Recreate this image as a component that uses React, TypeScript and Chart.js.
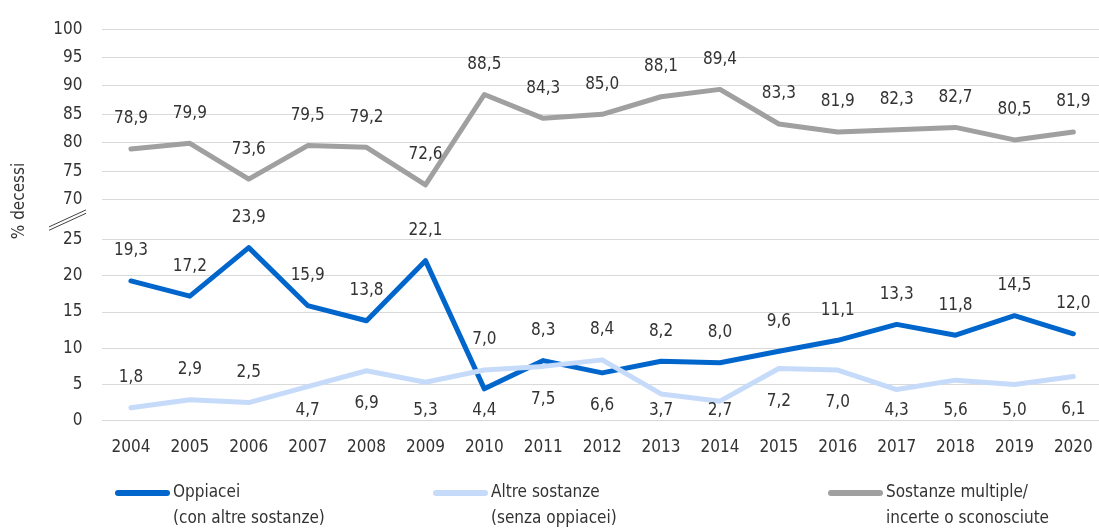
import React, { useEffect, useRef } from 'react';
import { Chart, registerables } from 'chart.js';

Chart.register(...registerables);

// ---------- data ----------
const years = ['2004', '2005', '2006', '2007', '2008', '2009', '2010', '2011', '2012', '2013', '2014', '2015', '2016', '2017', '2018', '2019', '2020'];
const oppiacei = [19.3, 17.2, 23.9, 15.9, 13.8, 22.1, 4.4, 8.3, 6.6, 8.2, 8.0, 9.6, 11.1, 13.3, 11.8, 14.5, 12.0];
const altreSostanze = [1.8, 2.9, 2.5, 4.7, 6.9, 5.3, 7.0, 7.5, 8.4, 3.7, 2.7, 7.2, 7.0, 4.3, 5.6, 5.0, 6.1];
const sostanzeMultiple = [78.9, 79.9, 73.6, 79.5, 79.2, 72.6, 88.5, 84.3, 85.0, 88.1, 89.4, 83.3, 81.9, 82.3, 82.7, 80.5, 81.9];
const lowerTicks = [0, 5, 10, 15, 20, 25];
const upperTicks = [70, 75, 80, 85, 90, 95, 100];
const seriesLabels = [
  ['Oppiacei', '(con altre sostanze)'],
  ['Altre sostanze', '(senza oppiacei)'],
  ['Sostanze multiple/', 'incerte o sconosciute'],
];
const yTitle = '% decessi';

// ---------- styles ----------
const FONT = "'Liberation Sans Narrow', 'DejaVu Sans Condensed', 'Arial Narrow', sans-serif";
const FS = 17;
const TEXT = '#333333';
const GRID = '#d9d9d9';
const colors = ['#0066cc', '#c6dbfa', '#a0a0a0'];
// label placement per point: 'a' = above, 'b' = below
const labelPlacement = [
  ['a', 'a', 'a', 'a', 'a', 'a', 'b', 'a', 'b', 'a', 'a', 'a', 'a', 'a', 'a', 'a', 'a'],
  ['a', 'a', 'a', 'b', 'b', 'b', 'a', 'b', 'a', 'b', 'b', 'b', 'b', 'b', 'b', 'b', 'b'],
  ['a', 'a', 'a', 'a', 'a', 'a', 'a', 'a', 'a', 'a', 'a', 'a', 'a', 'a', 'a', 'a', 'a'],
];
const legendX = [115, 433, 828];

const fmt = (v: number) => v.toFixed(1).replace('.', ',');

const decorPlugin = {
  id: 'decor',
  afterDatasetsDraw(chart: any) {
    const ctx = chart.ctx;
    ctx.save();
    ctx.font = `${FS}px ${FONT}`;
    ctx.fillStyle = TEXT;
    ctx.textAlign = 'center';
    ctx.textBaseline = 'middle';
    const bottom = chart.chartArea.bottom;
    chart.data.datasets.forEach((ds: any, di: number) => {
      const meta = chart.getDatasetMeta(di);
      meta.data.forEach((pt: any, i: number) => {
        const place = labelPlacement[di][i];
        const y = place === 'a' ? pt.y - 30 : Math.min(pt.y + 33, bottom - 10);
        ctx.fillText(fmt(ds.data[i]), pt.x, y);
      });
    });
    ctx.restore();
  },
  afterDraw(chart: any) {
    const ctx = chart.ctx;
    const yLow = chart.scales.yLow;
    const yHigh = chart.scales.yHigh;
    ctx.save();
    // axis title
    ctx.font = `${FS}px ${FONT}`;
    ctx.fillStyle = TEXT;
    ctx.textAlign = 'center';
    ctx.textBaseline = 'middle';
    ctx.translate(20, 201);
    ctx.rotate(-Math.PI / 2);
    ctx.fillText(yTitle, 0, 0);
    ctx.restore();

    // axis break marks
    const mid = (yLow.getPixelForValue(25) + yHigh.getPixelForValue(70)) / 2;
    ctx.save();
    ctx.strokeStyle = '#404040';
    ctx.lineWidth = 1;
    [-1.7, 1.7].forEach((d) => {
      ctx.beginPath();
      ctx.moveTo(49, mid + 9 + d);
      ctx.lineTo(86, mid - 8 + d);
      ctx.stroke();
    });
    ctx.restore();

    // legend
    ctx.save();
    ctx.font = `${FS}px ${FONT}`;
    ctx.fillStyle = TEXT;
    ctx.textAlign = 'left';
    ctx.textBaseline = 'middle';
    seriesLabels.forEach((lines, i) => {
      const x = legendX[i];
      ctx.strokeStyle = colors[i];
      ctx.lineWidth = 6;
      ctx.lineCap = 'round';
      ctx.beginPath();
      ctx.moveTo(x + 3, 493);
      ctx.lineTo(x + 52, 493);
      ctx.stroke();
      lines.forEach((t, li) => ctx.fillText(t, x + 58, 493 + li * 26));
    });
    ctx.restore();
  },
};

export default function App() {
  const ref = useRef<HTMLCanvasElement>(null);
  useEffect(() => {
    if (!ref.current) return;
    const tickFont = { family: FONT, size: FS };
    const yCommon = (weight: number, stackWeight: number, min: number, max: number, ticks: number[]) => ({
      type: 'linear' as const,
      position: 'left' as const,
      stack: 'y',
      weight,
      stackWeight,
      min,
      max,
      afterBuildTicks: (s: any) => {
        s.ticks = ticks.map((v) => ({ value: v }));
      },
      afterFit: (s: any) => {
        s.width = 101.5;
      },
      grid: { color: GRID, lineWidth: 1, drawTicks: false },
      border: { display: false },
      ticks: { font: tickFont, color: TEXT, padding: 19, autoSkip: false },
    });
    const chart = new Chart(ref.current, {
      type: 'line',
      data: {
        labels: years,
        datasets: [
          { label: seriesLabels[0].join(' '), data: oppiacei, borderColor: colors[0], yAxisID: 'yLow', order: 2 },
          { label: seriesLabels[1].join(' '), data: altreSostanze, borderColor: colors[1], yAxisID: 'yLow', order: 1 },
          { label: seriesLabels[2].join(' '), data: sostanzeMultiple, borderColor: colors[2], yAxisID: 'yHigh', order: 3 },
        ].map((d) => ({ ...d, borderWidth: 5, pointRadius: 0, pointHoverRadius: 0, tension: 0, borderJoinStyle: 'round' as const, borderCapStyle: 'round' as const, fill: false })),
      },
      options: {
        animation: false,
        responsive: true,
        maintainAspectRatio: false,
        layout: { padding: { top: 23.3, bottom: 70.3, left: 0, right: 6.5 } },
        plugins: { legend: { display: false }, tooltip: { enabled: false }, title: { display: false } },
        scales: {
          x: {
            type: 'category',
            offset: true,
            grid: { display: false, drawTicks: false },
            border: { display: false },
            ticks: { font: tickFont, color: TEXT, padding: 17, maxRotation: 0, autoSkip: false },
            afterFit: (s: any) => {
              s.height = 40;
            },
          },
          yLow: yCommon(0, 224.5, 0, 30.54, lowerTicks),
          yHigh: yCommon(1, 172.9, 70, 100, upperTicks),
        },
      },
      plugins: [decorPlugin],
    });
    return () => chart.destroy();
  }, []);
  return (
    <div style={{ position: 'absolute', left: 0, top: 0, width: 1099, height: 531, overflow: 'hidden', background: '#fff' }}>
      <div style={{ position: 'relative', width: 1110, height: 531 }}>
        <canvas ref={ref} />
      </div>
    </div>
  );
}
